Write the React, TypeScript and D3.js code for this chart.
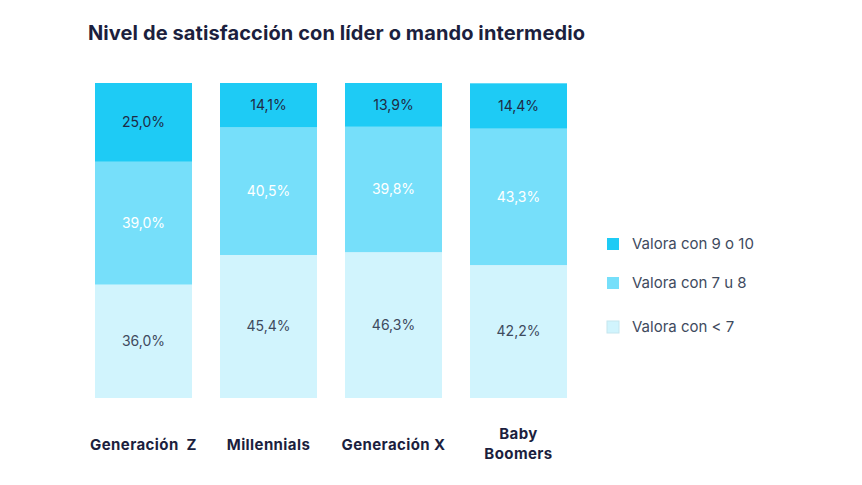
import React from "react";
import * as d3 from "d3";

const categories = ["Generación  Z", "Millennials", "Generación X", "Baby\nBoomers"];
const seriesNames = ["Valora con < 7", "Valora con 7 u 8", "Valora con 9 o 10"];
const low = [36.0, 45.4, 46.3, 42.2];
const mid = [39.0, 40.5, 39.8, 43.3];
const high = [25.0, 14.1, 13.9, 14.4];
const colors = ["#d1f4fd", "#76dffa", "#1ecbf5"];
const labelColors = ["#3e4a5e", "#ffffff", "#1f2a44"];

const W = 862;
const H = 485;

export default function App() {
  const series = [low, mid, high];
  const x = d3.scaleBand().domain(categories).range([95, 567]).paddingInner(0.224).paddingOuter(0);
  const y = d3.scaleLinear().domain([0, 100]).range([398, 83]);
  const fmt = (v: number) => v.toFixed(1).replace(".", ",") + "%";
  const font = "Inter, 'Noto Sans', sans-serif";

  const legendOrder = [2, 1, 0];
  const legendY = [244, 283, 327];

  return (
    <svg width={W} height={H} style={{ position: "absolute", left: 0, top: 0, background: "#fff" }} fontFamily={font}>
      <text x={88} y={40} fontSize={20} fontWeight={700} fill="#1c1f3e" letterSpacing={0.1}>
        Nivel de satisfacción con líder o mando intermedio
      </text>
      {categories.map((c, i) => {
        let acc = 0;
        return (
          <g key={c}>
            {series.map((s, k) => {
              const y0 = acc;
              acc += s[i];
              const top = y(acc);
              const bot = y(y0);
              const xx = x(c)!;
              return (
                <g key={k}>
                  <rect x={xx} y={top} width={x.bandwidth()} height={bot - top} fill={colors[k]} />
                  <text
                    x={xx + x.bandwidth() / 2}
                    y={(top + bot) / 2}
                    dy="0.35em"
                    textAnchor="middle"
                    fontSize={14}
                    fill={labelColors[k]}
                  >
                    {fmt(s[i])}
                  </text>
                </g>
              );
            })}
            {c.split("\n").map((line, j, arr) => (
              <text
                key={j}
                x={x(c)! + x.bandwidth() / 2}
                y={arr.length === 1 ? 450 : 439 + j * 20}
                textAnchor="middle"
                fontSize={15}
                fontWeight={700}
                fill="#1c1f3e"
                letterSpacing={0.4}
                style={{ whiteSpace: "pre" }}
              >
                {line}
              </text>
            ))}
          </g>
        );
      })}
      {legendOrder.map((k, j) => (
        <g key={k}>
          <rect x={607} y={legendY[j] - 6} width={12} height={12} fill={colors[k]} stroke={k === 0 ? "#c5e6ee" : "none"} />
          <text x={632} y={legendY[j]} dy="0.35em" fontSize={15} fill="#3e4a5e">
            {seriesNames[k]}
          </text>
        </g>
      ))}
    </svg>
  );
}
